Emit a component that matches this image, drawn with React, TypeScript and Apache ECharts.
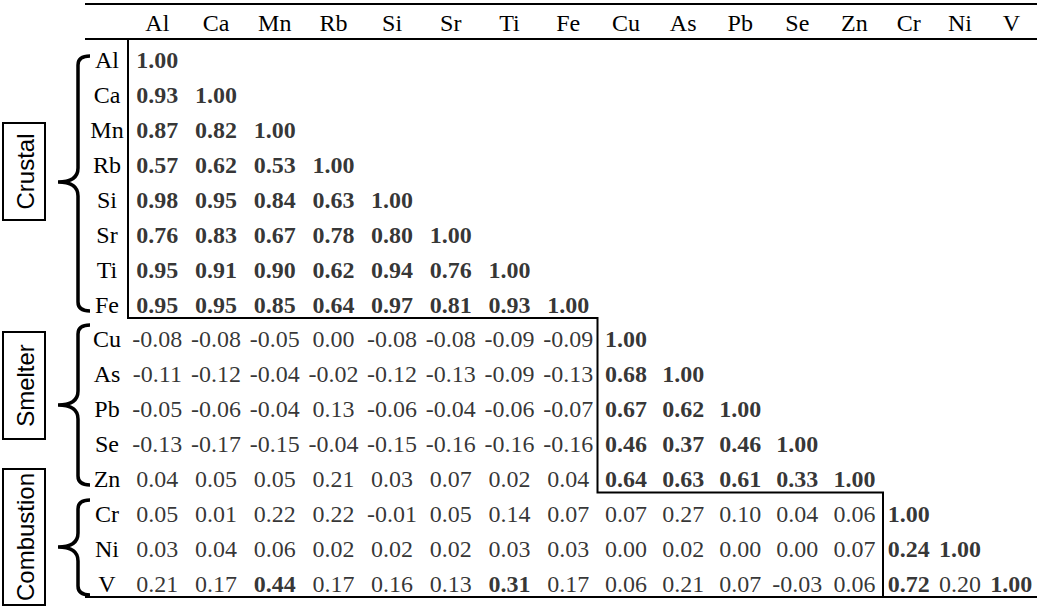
import React, { useEffect, useRef } from "react";
import * as echarts from "echarts";

// ---------- data ----------
const ELEMENTS = ["Al", "Ca", "Mn", "Rb", "Si", "Sr", "Ti", "Fe", "Cu", "As", "Pb", "Se", "Zn", "Cr", "Ni", "V"];

const CRUSTAL = ["Al", "Ca", "Mn", "Rb", "Si", "Sr", "Ti", "Fe"];
const SMELTER = ["Cu", "As", "Pb", "Se", "Zn"];
const COMBUSTION = ["Cr", "Ni", "V"];
const GROUP_NAMES = ["Crustal", "Smelter", "Combustion"];

const rowAl = [1.0];
const rowCa = [0.93, 1.0];
const rowMn = [0.87, 0.82, 1.0];
const rowRb = [0.57, 0.62, 0.53, 1.0];
const rowSi = [0.98, 0.95, 0.84, 0.63, 1.0];
const rowSr = [0.76, 0.83, 0.67, 0.78, 0.8, 1.0];
const rowTi = [0.95, 0.91, 0.9, 0.62, 0.94, 0.76, 1.0];
const rowFe = [0.95, 0.95, 0.85, 0.64, 0.97, 0.81, 0.93, 1.0];
const rowCu = [-0.08, -0.08, -0.05, 0.0, -0.08, -0.08, -0.09, -0.09, 1.0];
const rowAs = [-0.11, -0.12, -0.04, -0.02, -0.12, -0.13, -0.09, -0.13, 0.68, 1.0];
const rowPb = [-0.05, -0.06, -0.04, 0.13, -0.06, -0.04, -0.06, -0.07, 0.67, 0.62, 1.0];
const rowSe = [-0.13, -0.17, -0.15, -0.04, -0.15, -0.16, -0.16, -0.16, 0.46, 0.37, 0.46, 1.0];
const rowZn = [0.04, 0.05, 0.05, 0.21, 0.03, 0.07, 0.02, 0.04, 0.64, 0.63, 0.61, 0.33, 1.0];
const rowCr = [0.05, 0.01, 0.22, 0.22, -0.01, 0.05, 0.14, 0.07, 0.07, 0.27, 0.1, 0.04, 0.06, 1.0];
const rowNi = [0.03, 0.04, 0.06, 0.02, 0.02, 0.02, 0.03, 0.03, 0.0, 0.02, 0.0, 0.0, 0.07, 0.24, 1.0];
const rowV = [0.21, 0.17, 0.44, 0.17, 0.16, 0.13, 0.31, 0.17, 0.06, 0.21, 0.07, -0.03, 0.06, 0.72, 0.2, 1.0];

const MATRIX = [rowAl, rowCa, rowMn, rowRb, rowSi, rowSr, rowTi, rowFe, rowCu, rowAs, rowPb, rowSe, rowZn, rowCr, rowNi, rowV];

// significant (bold) flags, same shape as MATRIX
const boldAl = [1];
const boldCa = [1, 1];
const boldMn = [1, 1, 1];
const boldRb = [1, 1, 1, 1];
const boldSi = [1, 1, 1, 1, 1];
const boldSr = [1, 1, 1, 1, 1, 1];
const boldTi = [1, 1, 1, 1, 1, 1, 1];
const boldFe = [1, 1, 1, 1, 1, 1, 1, 1];
const boldCu = [0, 0, 0, 0, 0, 0, 0, 0, 1];
const boldAs = [0, 0, 0, 0, 0, 0, 0, 0, 1, 1];
const boldPb = [0, 0, 0, 0, 0, 0, 0, 0, 1, 1, 1];
const boldSe = [0, 0, 0, 0, 0, 0, 0, 0, 1, 1, 1, 1];
const boldZn = [0, 0, 0, 0, 0, 0, 0, 0, 1, 1, 1, 1, 1];
const boldCr = [0, 0, 0, 0, 0, 0, 0, 0, 0, 0, 0, 0, 0, 1];
const boldNi = [0, 0, 0, 0, 0, 0, 0, 0, 0, 0, 0, 0, 0, 1, 1];
const boldV = [0, 0, 1, 0, 0, 0, 1, 0, 0, 0, 0, 0, 0, 1, 0, 1];

const BOLD = [boldAl, boldCa, boldMn, boldRb, boldSi, boldSr, boldTi, boldFe, boldCu, boldAs, boldPb, boldSe, boldZn, boldCr, boldNi, boldV];

// ---------- layout ----------
const SERIF = "'Liberation Serif', 'Times New Roman', serif";
const SANS = "'Liberation Sans', Arial, sans-serif";
const FONT_SIZE = 24;
const COL_EDGES = [128, 597.5, 883, 1037];
const TABLE_LEFT = 85;
const TABLE_RIGHT = 1037;
const TOP_RULE = 4;
const HEADER_RULE = 39;
const GRID_TOP = 43;
const ROW_H = 34.875;
const BOTTOM_RULE = 597;

function bracePath(x: number, y1: number, y2: number, tipX: number, tipY: number) {
  const h = 12;
  return [
    `M ${x + h} ${y1}`,
    `Q ${x} ${y1} ${x} ${y1 + 9}`,
    `L ${x} ${tipY - 14}`,
    `Q ${x} ${tipY} ${tipX} ${tipY}`,
    `Q ${x} ${tipY} ${x} ${tipY + 14}`,
    `L ${x} ${y2 - 9}`,
    `Q ${x} ${y2} ${x + h} ${y2}`,
  ].join(" ");
}

const BRACES = [
  { y1: 56, y2: 311, tip: 182 },
  { y1: 325, y2: 485, tip: 405 },
  { y1: 500, y2: 595, tip: 547 },
];
const BOXES = [
  { y1: 123, y2: 220 },
  { y1: 332, y2: 439 },
  { y1: 469, y2: 605 },
];

BRACES.forEach((b, i) => {
  echarts.graphic.registerShape("brace" + i, echarts.graphic.extendPath(bracePath(78, b.y1, b.y2, 58, b.tip), {}));
});

export default function App() {
  const ref = useRef<HTMLDivElement>(null);

  useEffect(() => {
    if (!ref.current) return;
    const chart = echarts.init(ref.current, undefined, { renderer: "svg" });
    const groups = [CRUSTAL, SMELTER, COMBUSTION];

    const grid: any[] = [];
    const xAxis: any[] = [];
    const yAxis: any[] = [];
    const series: any[] = [];

    groups.forEach((members, gi) => {
      grid.push({
        left: COL_EDGES[gi],
        width: COL_EDGES[gi + 1] - COL_EDGES[gi],
        top: GRID_TOP,
        height: ROW_H * ELEMENTS.length,
        outerBoundsMode: "none",
      });
      xAxis.push({
        type: "category",
        gridIndex: gi,
        position: "top",
        data: members,
        boundaryGap: true,
        axisLine: { show: false },
        axisTick: { show: false },
        splitLine: { show: false },
        axisLabel: { interval: 0, margin: 8, color: "#000", fontFamily: SERIF, fontSize: FONT_SIZE },
      });
      yAxis.push({
        type: "category",
        gridIndex: gi,
        inverse: true,
        data: ELEMENTS,
        boundaryGap: true,
        axisLine: { show: false },
        axisTick: { show: false },
        splitLine: { show: false },
        axisLabel: {
          show: gi === 0,
          interval: 0,
          align: "center",
          margin: 21,
          color: "#000",
          fontFamily: SERIF,
          fontSize: FONT_SIZE,
        },
      });
      const data: any[] = [];
      MATRIX.forEach((row, r) => {
        row.forEach((v, c) => {
          const col = ELEMENTS[c];
          if (members.indexOf(col) < 0) return;
          data.push({
            value: [col, ELEMENTS[r], v],
            label: { fontWeight: BOLD[r][c] ? "bold" : "normal" },
          });
        });
      });
      series.push({
        type: "scatter",
        xAxisIndex: gi,
        yAxisIndex: gi,
        symbol: "circle",
        symbolSize: 1,
        itemStyle: { color: "rgba(0,0,0,0)" },
        silent: true,
        label: {
          show: true,
          position: "inside",
          color: "#000",
          fontFamily: SERIF,
          fontSize: FONT_SIZE,
          formatter: (p: any) => Number(p.value[2]).toFixed(2),
        },
        data,
      });
    });

    const y8 = HEADER_RULE + ROW_H * CRUSTAL.length;
    const y13 = HEADER_RULE + ROW_H * (CRUSTAL.length + SMELTER.length);

    const graphic: any[] = [
      { type: "line", shape: { x1: TABLE_LEFT, y1: TOP_RULE, x2: TABLE_RIGHT, y2: TOP_RULE }, style: { stroke: "#000", lineWidth: 2 } },
      { type: "line", shape: { x1: TABLE_LEFT, y1: HEADER_RULE, x2: TABLE_RIGHT, y2: HEADER_RULE }, style: { stroke: "#000", lineWidth: 2 } },
      { type: "line", shape: { x1: TABLE_LEFT, y1: BOTTOM_RULE, x2: TABLE_RIGHT, y2: BOTTOM_RULE }, style: { stroke: "#000", lineWidth: 2 } },
      {
        type: "polyline",
        shape: {
          points: [
            [COL_EDGES[0], HEADER_RULE],
            [COL_EDGES[0], y8],
            [COL_EDGES[1], y8],
            [COL_EDGES[1], y13],
            [COL_EDGES[2], y13],
            [COL_EDGES[2], BOTTOM_RULE],
          ],
        },
        style: { stroke: "#000", lineWidth: 2, fill: "none" },
      },
    ];

    BRACES.forEach((b, i) => {
      graphic.push({ type: "brace" + i, x: 0, y: 0, style: { stroke: "#000", lineWidth: 3.5, fill: "none" } });
    });
    BOXES.forEach((b, i) => {
      graphic.push({
        type: "rect",
        shape: { x: 3, y: b.y1, width: 42, height: b.y2 - b.y1 },
        style: { stroke: "#000", lineWidth: 2, fill: "#fff" },
      });
      graphic.push({
        type: "text",
        x: 25,
        y: (b.y1 + b.y2) / 2,
        rotation: Math.PI / 2,
        style: {
          text: GROUP_NAMES[i],
          align: "center",
          verticalAlign: "middle",
          fontFamily: SANS,
          fontSize: 24,
          fill: "#000",
        },
      });
    });

    chart.setOption({
      animation: false,
      backgroundColor: "#fff",
      grid,
      xAxis,
      yAxis,
      series,
      graphic,
    });

    return () => chart.dispose();
  }, []);

  return (
    <div
      ref={ref}
      style={{ position: "fixed", left: 0, top: 0, width: 1050, height: 607, background: "#fff" }}
    />
  );
}
